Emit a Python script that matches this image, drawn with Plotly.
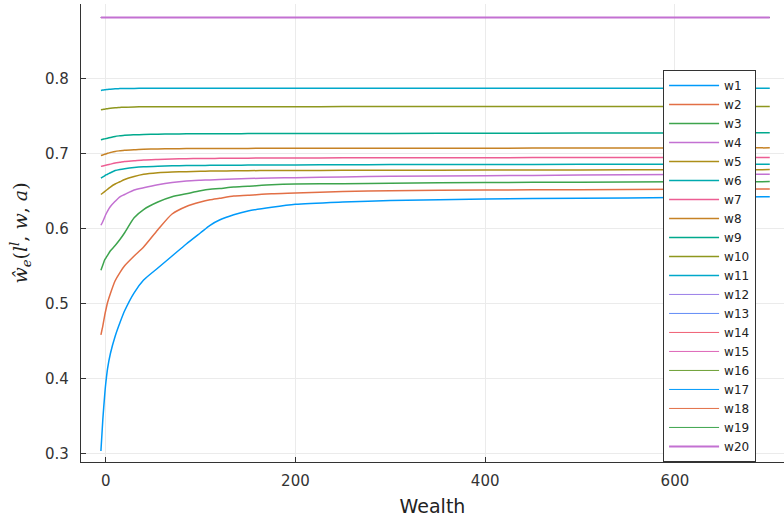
import plotly.graph_objects as go

# ---- data ----
wealth = [-5, -3, -1, 0, 2, 5, 10, 15, 20, 30, 40, 55, 70, 85, 100, 110, 120,
          135, 150, 175, 200, 250, 300, 400, 500, 600, 700]

w1 = [0.303, 0.345, 0.378, 0.392, 0.413, 0.433, 0.456, 0.474, 0.490, 0.514, 0.531,
      0.547, 0.563, 0.579, 0.594, 0.604, 0.611, 0.618, 0.623, 0.628, 0.632, 0.635,
      0.637, 0.639, 0.640, 0.641, 0.642]
w2 = [0.458, 0.470, 0.484, 0.490, 0.501, 0.513, 0.530, 0.541, 0.550, 0.563, 0.575,
      0.598, 0.619, 0.629, 0.635, 0.638, 0.640, 0.643, 0.644, 0.646, 0.647, 0.649,
      0.650, 0.651, 0.6515, 0.652, 0.6525]
w3 = [0.544, 0.551, 0.558, 0.560, 0.564, 0.570, 0.577, 0.585, 0.594, 0.614, 0.625,
      0.635, 0.642, 0.646, 0.650, 0.652, 0.653, 0.655, 0.656, 0.658, 0.659, 0.6595,
      0.660, 0.661, 0.6615, 0.662, 0.6622]
w4 = [0.604, 0.609, 0.615, 0.618, 0.623, 0.629, 0.636, 0.642, 0.645, 0.651, 0.654,
      0.658, 0.661, 0.663, 0.664, 0.6645, 0.665, 0.6657, 0.6663, 0.667, 0.6675, 0.6685,
      0.6693, 0.670, 0.671, 0.6716, 0.672]
w5 = [0.645, 0.647, 0.649, 0.650, 0.652, 0.655, 0.659, 0.662, 0.665, 0.669, 0.672,
      0.674, 0.675, 0.6755, 0.676, 0.6762, 0.6764, 0.6766, 0.6768, 0.677, 0.6771, 0.6772,
      0.6773, 0.6776, 0.6778, 0.678, 0.6782]
w6 = [0.667, 0.6685, 0.670, 0.671, 0.672, 0.674, 0.677, 0.6785, 0.6795, 0.681, 0.682,
      0.6828, 0.6833, 0.6836, 0.6838, 0.6839, 0.684, 0.6841, 0.6842, 0.6844, 0.6845, 0.6847,
      0.6849, 0.685, 0.6852, 0.6853, 0.6854]
w7 = [0.6825, 0.6831, 0.6837, 0.684, 0.6846, 0.6855, 0.687, 0.688, 0.689, 0.690, 0.691,
      0.6918, 0.6925, 0.6928, 0.693, 0.6931, 0.6932, 0.6934, 0.6935, 0.6937, 0.6938, 0.6939,
      0.694, 0.6941, 0.6943, 0.6944, 0.6945]
w8 = [0.697, 0.6978, 0.6986, 0.699, 0.700, 0.701, 0.7025, 0.7033, 0.704, 0.7047, 0.7053,
      0.7057, 0.706, 0.7062, 0.7063, 0.7063, 0.7064, 0.7065, 0.7065, 0.7066, 0.7066, 0.7067,
      0.7067, 0.7068, 0.707, 0.7071, 0.7072]
w9 = [0.718, 0.7186, 0.7192, 0.7195, 0.720, 0.721, 0.7225, 0.7233, 0.724, 0.7246, 0.725,
      0.7254, 0.7257, 0.7259, 0.726, 0.726, 0.7261, 0.7261, 0.7262, 0.7262, 0.7263, 0.7264,
      0.7265, 0.7267, 0.7269, 0.7271, 0.7272]
w10 = [0.758, 0.7584, 0.7588, 0.759, 0.7594, 0.760, 0.7607, 0.7611, 0.7615, 0.7618, 0.762,
       0.762, 0.762, 0.762, 0.762, 0.762, 0.762, 0.7621, 0.7621, 0.7621, 0.7621, 0.7622,
       0.7622, 0.7623, 0.7624, 0.7624, 0.7625]
w11 = [0.7838, 0.7842, 0.7846, 0.7848, 0.7851, 0.7855, 0.786, 0.7862, 0.7864, 0.7865, 0.7866,
       0.7866, 0.7867, 0.7867, 0.7867, 0.7867, 0.7867, 0.7867, 0.7867, 0.7867, 0.7867, 0.7867,
       0.7867, 0.7867, 0.7868, 0.7868, 0.7868]
w_top = [0.881] * len(wealth)  # w12 ... w20 coincide at the top

series = [w1, w2, w3, w4, w5, w6, w7, w8, w9, w10, w11] + [w_top] * 9
names = [f"w{i}" for i in range(1, 21)]

palette = ["#009AFA", "#E26F46", "#3DA44D", "#C371D2", "#AC8E18", "#00AAAE",
           "#ED5E93", "#C68225", "#00A98D", "#8E971E", "#00A8CA", "#9B7FE8",
           "#618CF6", "#F05F73", "#DD65B7", "#6C9F33"]

x_ticks = [0, 200, 400, 600]
y_ticks = [0.3, 0.4, 0.5, 0.6, 0.7, 0.8]

fig = go.Figure()
for i, (name, vals) in enumerate(zip(names, series)):
    if 11 <= i < 19:
        lw = 1.0
    elif i == 19:
        lw = 2.0
    else:
        lw = 1.5
    fig.add_trace(go.Scatter(x=wealth, y=vals, mode="lines", name=name,
                             line=dict(color=palette[i % len(palette)], width=lw,
                                       shape="spline", smoothing=0.7)))

axis_font = dict(family="DejaVu Sans", size=15, color="#333333")
fig.update_layout(
    width=784, height=521,
    margin=dict(l=81, r=0, t=4, b=59),
    paper_bgcolor="white", plot_bgcolor="white",
    font=dict(family="DejaVu Sans", color="#222222"),
    xaxis=dict(range=[-26, 715], tickvals=x_ticks, ticks="inside", ticklen=5,
               tickcolor="#333333", showline=True, linecolor="#333333", linewidth=1.3,
               showgrid=True, gridcolor="#ebebeb", gridwidth=1, zeroline=False,
               tickfont=axis_font, ticklabelstandoff=5,
               title=dict(text="Wealth", font=dict(family="DejaVu Sans", size=19, color="#222222"),
                          standoff=10)),
    yaxis=dict(range=[0.2884, 0.899], tickvals=y_ticks, tickformat=".1f", ticks="inside",
               ticklen=5, tickcolor="#333333", showline=True, linecolor="#333333",
               linewidth=1.3, showgrid=True, gridcolor="#ebebeb", gridwidth=1,
               zeroline=False, tickfont=axis_font, ticklabelstandoff=8,
               title=dict(text="<i>ŵ</i><sub><i>e</i></sub>(<i>l</i><sup><i>l</i></sup>, <i>w</i>, <i>a</i>)",
                          font=dict(family="DejaVu Serif", size=19, color="#222222"),
                          standoff=12)),
    legend=dict(x=0.828, y=0.856, xanchor="left", yanchor="top",
                bgcolor="white", bordercolor="#333333", borderwidth=1,
                font=dict(family="DejaVu Sans", size=12, color="#222222"),
                itemwidth=50, entrywidth=62, tracegroupgap=0),
    showlegend=True,
)

fig.write_html("out.html", config={"displayModeBar": False},
               post_script="document.body.style.margin='0';document.body.style.padding='0';")
